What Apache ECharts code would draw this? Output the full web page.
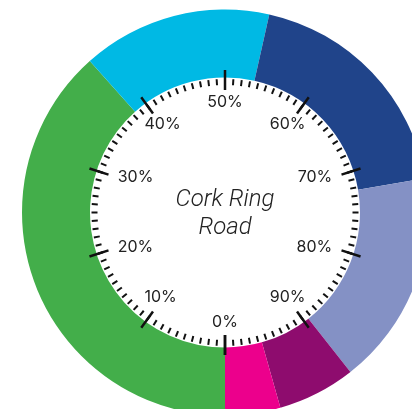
<!DOCTYPE html>
<html><head><meta charset="utf-8">
<script src="https://cdn.jsdelivr.net/npm/echarts@6/dist/echarts.min.js"></script>
<style>html,body{margin:0;padding:0;background:#fff}#c{width:412px;height:409px}</style>
</head><body><div id="c"></div>
<script>
// ---- data ----
const segmentNames = ['Segment 1', 'Segment 2', 'Segment 3', 'Segment 4', 'Segment 5', 'Segment 6'];
const segmentValues = [38.4, 15.1, 18.8, 17.1, 6.2, 4.4];
const segmentColors = ['#43ae4a', '#00b9e4', '#20448a', '#8491c5', '#8e0c6e', '#ec008c'];
const tickLabels = ['0%', '10%', '20%', '30%', '40%', '50%', '60%', '70%', '80%', '90%', ''];
const sideTicks = [20, 30, 70, 80];
const poleTicks = [0, 50];
const diagTicks = [10, 40, 60, 90];
const centerTitle = 'Cork Ring\nRoad';

// ---- layout ----
const C = [225, 212.5];
const labelFont = { fontFamily: 'Inter', fontSize: 16, color: '#222' };

function gaugeBase(extra) {
  return Object.assign({
    type: 'gauge', center: C, radius: 142.5, startAngle: 270, endAngle: -90,
    min: 0, max: 100, splitNumber: 10, z: 5,
    axisLine: { show: false, lineStyle: { width: 0 } },
    splitLine: { show: false, length: 20, distance: 0 },
    axisTick: { show: false },
    axisLabel: { show: false },
    pointer: { show: false }, anchor: { show: false }, progress: { show: false },
    title: { show: false }, detail: { show: false },
    data: [], silent: true, animation: false
  }, extra);
}
function labelFor(set) {
  return function (v) { return set.indexOf(v) >= 0 ? tickLabels[Math.round(v / 10)] : ''; };
}

const chart = echarts.init(document.getElementById('c'), null, { renderer: 'canvas' });
chart.setOption({
  backgroundColor: '#fff',
  animation: false,
  series: [
    {
      type: 'pie', center: C, radius: [135, 203], startAngle: 270, clockwise: true, z: 1,
      silent: true, label: { show: false }, labelLine: { show: false },
      emphasis: { disabled: true },
      itemStyle: { borderWidth: 0 },
      data: segmentNames.map((n, i) => ({ name: n, value: segmentValues[i], itemStyle: { color: segmentColors[i] } }))
    },
    gaugeBase({
      splitLine: { show: true, length: 20, distance: 0, lineStyle: { color: '#111', width: 2.5 } },
      axisTick: { show: true, splitNumber: 10, length: 6, distance: 9, lineStyle: { color: '#111', width: 2 } },
      data: [{ value: 0, name: centerTitle }],
      title: { show: true, offsetCenter: [0, 1.5], fontFamily: 'Roboto', fontStyle: 'italic', fontWeight: 300,
               fontSize: 24, lineHeight: 28, color: '#222' }
    }),
    gaugeBase({ axisLabel: Object.assign({ show: true, distance: 9.7, formatter: labelFor(sideTicks) }, labelFont) }),
    gaugeBase({ axisLabel: Object.assign({ show: true, distance: 4.5, formatter: labelFor(poleTicks) }, labelFont) }),
    gaugeBase({ axisLabel: Object.assign({ show: true, distance: -14.5, padding: [15, 0, 18, 0], formatter: labelFor(diagTicks) }, labelFont) })
  ]
});
</script></body></html>
